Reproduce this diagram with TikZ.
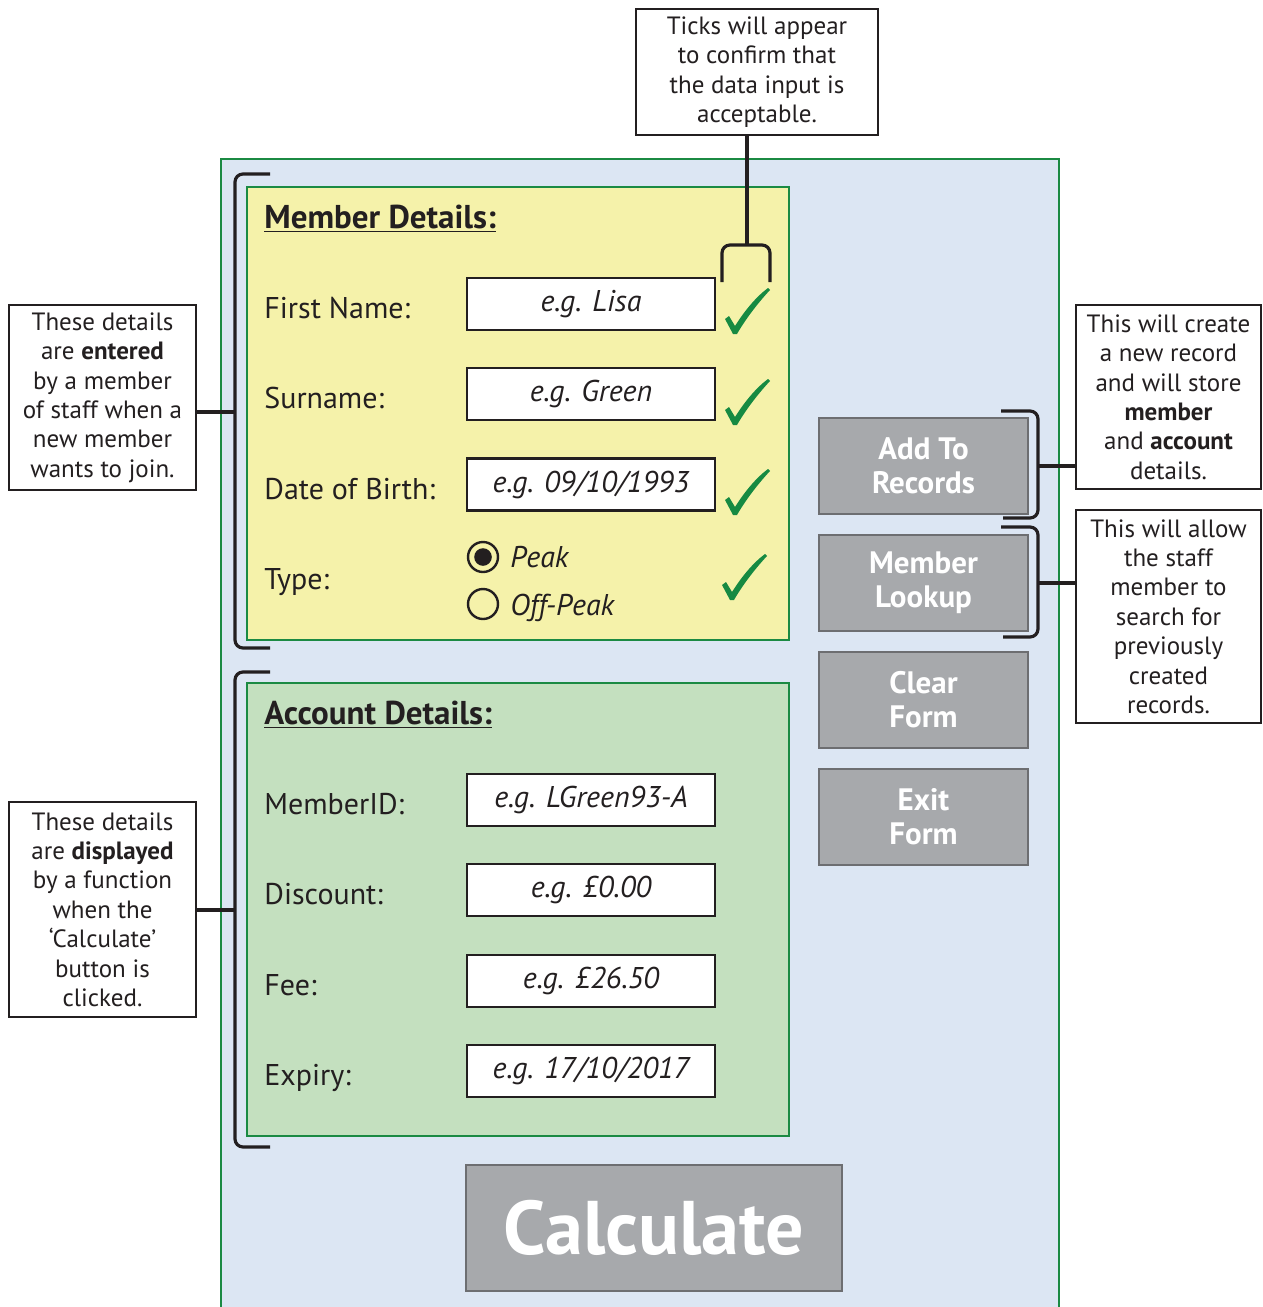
\documentclass[tikz,border=0pt]{standalone}
\usepackage{fontspec}
\setmainfont{PT Sans}
\usetikzlibrary{positioning}
\definecolor{PanelBlue}{HTML}{DCE6F3}
\definecolor{FormYellow}{HTML}{F5F2AA}
\definecolor{FormGreen}{HTML}{C4E0BF}
\definecolor{EdgeGreen}{HTML}{1B8A43}
\definecolor{BtnGrey}{HTML}{A7A9AC}
\definecolor{BtnEdge}{HTML}{6D6E71}
\definecolor{Ink}{HTML}{231F20}
\definecolor{TickGreen}{HTML}{168A42}

\begin{document}
\begin{tikzpicture}[x=0.5pt, y=-0.5pt,
    callout/.style={draw=Ink, line width=1.3pt, fill=white, align=center,
                    inner sep=0pt, text=Ink, minimum width=93.5pt,
                    font=\fontsize{12.5}{14.7}\selectfont},
    entry/.style={draw=Ink, line width=1.4pt, fill=white, text=Ink,
                  minimum width=124pt, minimum height=26pt, inner sep=0pt,
                  font=\fontsize{15}{17}\selectfont\itshape},
    field/.style={anchor=base west, text=Ink, inner sep=0pt,
                  font=\fontsize{15}{17}\selectfont},
    heading/.style={anchor=base west, text=Ink, inner sep=0pt,
                    font=\fontsize{16.5}{18}\selectfont\bfseries},
    button/.style={draw=BtnEdge, line width=1.3pt, fill=BtnGrey, text=white,
                   minimum width=104.5pt, minimum height=48pt, align=center,
                   inner sep=0pt, font=\fontsize{15.5}{17}\selectfont\bfseries},
    bracket/.style={draw=Ink, line width=1.6pt, rounded corners=4pt},
    panel/.style={draw=EdgeGreen, line width=1.4pt},
    radio/.style={draw=Ink, line width=1.2pt},
    okmark/.pic={
      \fill[TickGreen] (0,0) -- (-8,-15) -- (-4,-18) -- (2,-8)
        .. controls (12,-24) and (24,-38) .. (35,-46) -- (37,-44)
        .. controls (24,-30) and (12,-14) .. (4,0) -- cycle;
    }]
  \useasboundingbox (0,0) rectangle (1263,1307);

  % screen background
  \fill[PanelBlue] (221,159) rectangle (1059,1307);
  \draw[panel] (221,1307) -- (221,159) -- (1059,159) -- (1059,1307);

  % member details
  \draw[panel, fill=FormYellow] (247,187) rectangle (789,640);
  \node[heading] (memhead) at (264,228) {\underline{Member Details:}};
  \node[field] (fname) at (264,318) {First Name:};
  \node[field] (sname) at (264,408) {Surname:};
  \node[field] (dob) at (264,499) {Date of Birth:};
  \node[field] (type) at (264,589) {Type:};
  \node[entry] (fnamebox) at (591,304) {e.g. Lisa};
  \node[entry] (snamebox) at (591,394) {e.g. Green};
  \node[entry] (dobbox) at (591,484.5) {e.g. 09/10/1993};
  \draw[radio] (483,557) circle (7.5pt);
  \fill[Ink] (483,557) circle (4.4pt);
  \draw[radio] (483,604) circle (7.5pt);
  \node[field, font=\fontsize{15}{17}\selectfont\itshape] (peak) at (510,567) {Peak};
  \node[field, font=\fontsize{15}{17}\selectfont\itshape] (offpeak) at (510,615) {Off-Peak};
  \pic at (733,334) {okmark};
  \pic at (733,425) {okmark};
  \pic at (733,515) {okmark};
  \pic at (730,600) {okmark};

  % account details
  \draw[panel, fill=FormGreen] (247,683) rectangle (789,1136);
  \node[heading] (acchead) at (264,724) {\underline{Account Details:}};
  \node[field] (mid) at (264,814) {MemberID:};
  \node[field] (disc) at (264,904) {Discount:};
  \node[field] (fee) at (264,995) {Fee:};
  \node[field] (expiry) at (264,1085) {Expiry:};
  \node[entry] (midbox) at (591,800) {e.g. LGreen93-A};
  \node[entry] (discbox) at (591,890) {e.g. £0.00};
  \node[entry] (feebox) at (591,981) {e.g. £26.50};
  \node[entry] (expbox) at (591,1071) {e.g. 17/10/2017};

  % buttons
  \node[button] (addrec) at (923.5,466) {Add To\\Records};
  \node[button] (lookup) at (923.5,583) {Member\\Lookup};
  \node[button] (clear) at (923.5,700) {Clear\\Form};
  \node[button] (exit) at (923.5,817) {Exit\\Form};
  \node[button, minimum width=188pt, minimum height=63pt,
        font=\fontsize{38}{40}\selectfont\bfseries] (calc) at (654,1228) {Calculate};

  % notes
  \node[callout, minimum width=121pt, minimum height=63pt] (ticknote) at (757,72)
    {Ticks will appear\\to confirm that\\the data input is\\acceptable.};
  \node[callout, minimum height=92.5pt] (memnote) at (102.5,397.5)
    {These details\\are \textbf{entered}\\by a member\\of staff when a\\new member\\wants to join.};
  \node[callout, minimum height=107.5pt] (accnote) at (102.5,909.5)
    {These details\\are \textbf{displayed}\\by a function\\when the\\‘Calculate’\\button is\\clicked.};
  \node[callout, minimum width=92.5pt, minimum height=92pt] (addnote) at (1168.5,397)
    {This will create\\a new record\\and will store\\\textbf{member}\\and \textbf{account}\\details.};
  \node[callout, minimum width=92.5pt, minimum height=106.5pt] (looknote) at (1168.5,616.5)
    {This will allow\\the staff\\member to\\search for\\previously\\created\\records.};

  % brackets
  \draw[bracket] (722,282) -- (722,245) -- (770,245) -- (770,282);
  \coordinate (tickstem) at (747,245);
  \draw[bracket] (tickstem) -- (tickstem |- ticknote.south);

  \draw[bracket] (270,174) -- (235,174) -- (235,648) -- (270,648);
  \coordinate (memstem) at (235,412);
  \draw[bracket] (memstem) -- (memstem -| memnote.east);

  \draw[bracket] (270,672) -- (235,672) -- (235,1147) -- (270,1147);
  \coordinate (accstem) at (235,910);
  \draw[bracket] (accstem) -- (accstem -| accnote.east);

  \draw[bracket] (1001,411) -- (1038,411) -- (1038,518) -- (1003,518);
  \coordinate (addstem) at (1038,466);
  \draw[bracket] (addstem) -- (addstem -| addnote.west);

  \draw[bracket] (1001,527) -- (1038,527) -- (1038,637) -- (1003,637);
  \coordinate (lookstem) at (1038,583);
  \draw[bracket] (lookstem) -- (lookstem -| looknote.west);
\end{tikzpicture}
\end{document}
